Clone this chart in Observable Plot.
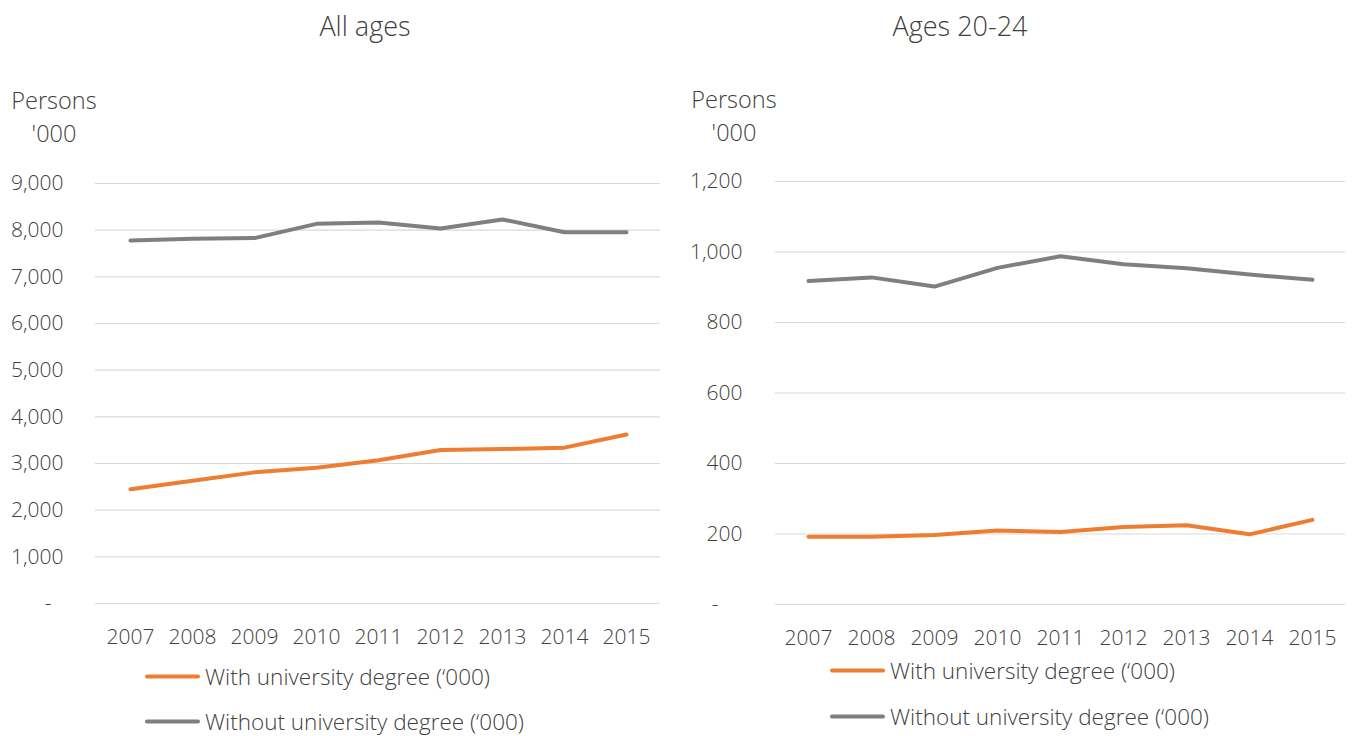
<!DOCTYPE html>
<html><head><meta charset="utf-8">
<script src="https://cdn.jsdelivr.net/npm/d3@7"></script>
<script src="https://cdn.jsdelivr.net/npm/@observablehq/plot@0.6"></script>
<style>
body{margin:0;width:1352px;height:736px;position:relative;background:#fff;font-family:"Open Sans",sans-serif;font-weight:300;color:#404040;overflow:hidden}
.abs{position:absolute;white-space:nowrap}
.title{font-size:27px;transform:translate(-50%,-50%)}
.ylab{font-size:23.5px;text-align:center;line-height:33px;transform:translate(-50%,0)}
.leg{font-size:22.5px;display:flex;align-items:center;transform:translate(0,-50%)}
.sw{width:55px;height:4px;border-radius:2px;margin-right:5px}
.svgwrap{position:absolute;top:0}
</style></head><body>
<script>
// ---- data ----
const years = [2007, 2008, 2009, 2010, 2011, 2012, 2013, 2014, 2015];
const seriesNames = ["With university degree (\u2018000)", "Without university degree (\u2018000)"];
const seriesColors = ["#ED7D31", "#7F7F7F"];
const allAgesWith    = [2450, 2630, 2810, 2910, 3070, 3290, 3310, 3340, 3620];
const allAgesWithout = [7780, 7815, 7830, 8135, 8165, 8035, 8230, 7955, 7955];
const young20With    = [192, 192, 197, 210, 206, 220, 225, 199, 240];
const young20Without = [918, 928, 902, 955, 988, 965, 954, 936, 921];
const allAgesTicks = [0, 1000, 2000, 3000, 4000, 5000, 6000, 7000, 8000, 9000];
const young20Ticks = [0, 200, 400, 600, 800, 1000, 1200];
const panelTitles = ["All ages", "Ages 20-24"];
const yLabelLines = ["Persons", "'000"];

function rows(withArr, withoutArr) {
  return [
    ...years.map((y, i) => ({year: String(y), value: withArr[i], series: seriesNames[0]})),
    ...years.map((y, i) => ({year: String(y), value: withoutArr[i], series: seriesNames[1]}))
  ];
}

function panel(opts) {
  const p = Plot.plot({
    width: opts.width,
    height: 660,
    marginLeft: 95,
    marginRight: opts.marginRight,
    marginTop: opts.top,
    marginBottom: 660 - opts.bottom,
    style: {fontFamily: '"Open Sans", sans-serif', fontSize: "21px", fontWeight: 300, color: "#404040", background: "transparent"},
    x: {type: "point", domain: years.map(String), padding: 0.5, label: null},
    y: {domain: [0, opts.ticks[opts.ticks.length - 1]], label: null},
    color: {domain: seriesNames, range: seriesColors},
    marks: [
      Plot.ruleY(opts.ticks, {stroke: "#d9d9d9", strokeWidth: 1.2}),
      Plot.axisX({tickSize: 0, tickPadding: 26, label: null}),
      Plot.axisY({ticks: opts.ticks, tickSize: 0, tickPadding: opts.tickPad, label: null,
        tickFormat: v => v === 0 ? opts.zero : d3.format(",")(v)}),
      Plot.line(opts.data, {x: "year", y: "value", z: "series", stroke: "series",
        strokeWidth: 4, strokeLinecap: "round", strokeLinejoin: "round"})
    ]
  });
  const wrap = document.createElement("div");
  wrap.className = "svgwrap";
  wrap.style.left = opts.left + "px";
  wrap.appendChild(p);
  document.body.appendChild(wrap);
}

function addText(cls, html, x, y) {
  const d = document.createElement("div");
  d.className = "abs " + cls;
  d.style.left = x + "px";
  d.style.top = y + "px";
  d.innerHTML = html;
  document.body.appendChild(d);
  return d;
}

function legend(x, y1, y2) {
  [y1, y2].forEach((y, i) => {
    addText("leg", `<span class="sw" style="background:${seriesColors[i]}"></span><span>${seriesNames[i]}</span>`, x, y);
  });
}

panel({left: 0, width: 670, marginRight: 10, top: 183, bottom: 603, ticks: allAgesTicks,
  tickPad: 32, zero: "-\u2007", data: rows(allAgesWith, allAgesWithout)});
panel({left: 680, width: 672, marginRight: 7, top: 181, bottom: 604, ticks: young20Ticks,
  tickPad: 33, zero: "-\u2007\u2007", data: rows(young20With, young20Without)});

addText("title", panelTitles[0], 365, 25);
addText("title", panelTitles[1], 960, 25);
addText("ylab", yLabelLines.join("<br>"), 54, 84);
addText("ylab", yLabelLines.join("<br>"), 734, 83);
legend(145, 676, 721);
legend(830, 670, 716);
</script>
</body></html>
